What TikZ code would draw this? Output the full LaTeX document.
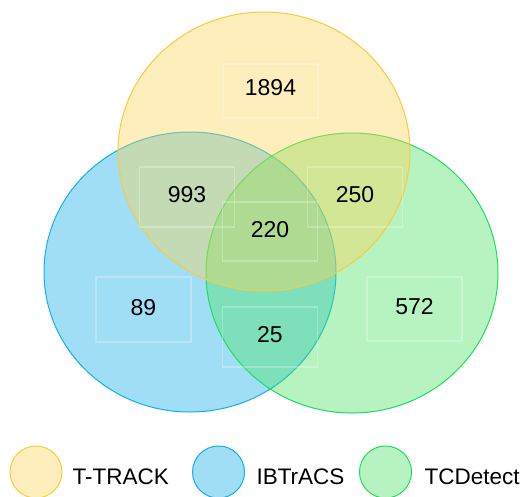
\documentclass[tikz,border=0pt]{standalone}
\usepackage{fontspec}
\setmainfont{Liberation Sans}
\usepackage{tikz}

\definecolor{ttrack}{RGB}{250,212,85}
\definecolor{ttrackline}{RGB}{246,205,60}
\definecolor{ibtracs}{RGB}{17,172,230}
\definecolor{ibtracsline}{RGB}{20,176,232}
\definecolor{tcdetect}{RGB}{75,225,100}
\definecolor{tcdetectline}{RGB}{30,220,100}

\begin{document}
\begin{tikzpicture}[x=1pt,y=-1pt,
	set/.style={fill opacity=.4, line width=1pt},
	numbox/.style={draw=white, draw opacity=.25, line width=1.2pt,
		minimum width=95pt, text depth=5pt,
		font=\fontsize{23}{26}\selectfont},
	keytext/.style={anchor=base west, font=\fontsize{22.5}{26}\selectfont}]
		\useasboundingbox (0,0) rectangle (525,496);
		% sets
		\draw[set, fill=ibtracs, draw=ibtracsline] (190,272) ellipse (146 and 140);
		\draw[set, fill=tcdetect, draw=tcdetectline] (352,273) ellipse (146 and 140);
		\draw[set, fill=ttrack, draw=ttrackline] (264,151.5) ellipse (146 and 139.5);
		% counts
		\node[numbox, minimum height=54pt, text depth=8pt] (a) at (270.5,91) {1894};
		\node[numbox, minimum height=60pt] (ab) at (187,197) {993};
		\node[numbox, minimum height=60pt] (ac) at (355,197) {250};
		\node[numbox, minimum height=59pt] (abc) at (270,231.5) {220};
		\node[numbox, minimum height=65pt] (b) at (143.5,309.5) {89};
		\node[numbox, minimum height=60pt] (bc) at (270,337) {25};
		\node[numbox, minimum height=64pt] (c) at (414.5,309) {572};
		% legend
		\draw[set, fill=ttrack, draw=ttrackline] (36,472) circle (26);
		\draw[set, fill=ibtracs, draw=ibtracsline] (218.5,472) circle (26);
		\draw[set, fill=tcdetect, draw=tcdetectline] (385.5,472) circle (26);
		\node[keytext] (kt) at (69,484) {T-TRACK};
		\node[keytext] (ki) at (253,484) {IBTrACS};
		\node[keytext] (kc) at (421,484) {TCDetect};
	\end{tikzpicture}
\end{document}
